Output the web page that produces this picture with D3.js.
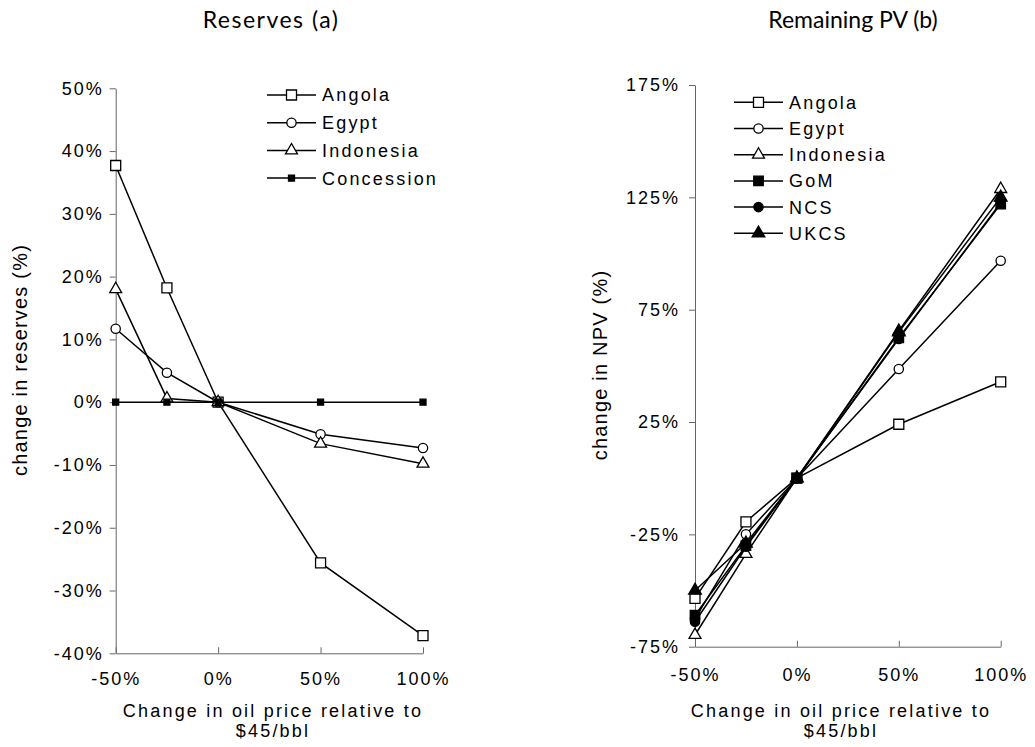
<!DOCTYPE html>
<html lang="en">
<head>
<meta charset="utf-8">
<title>Reserves and Remaining PV</title>
<script src="https://d3js.org/d3.v7.min.js"></script>
<style>
body { margin: 0; background: #fff; }
svg text { font-family: "Liberation Sans", Arial, sans-serif; fill: #000; }
.title { font-family: Lato, "Open Sans", sans-serif !important; font-size: 23px; }
.axis text { font-size: 18px; letter-spacing: 2px; }
.axis path, .axis line { stroke: #666; }
.lbl { font-size: 18px; letter-spacing: 2.2px; }
.ylbl { font-size: 20px; letter-spacing: 1.2px; }
.legend text { font-size: 18px; letter-spacing: 2.2px; }
</style>
</head>
<body>
<div id="chart"></div>
<script>

// x values shared by both panels (change in oil price, %)
var priceChange = [-50, -25, 0, 50, 100];

// panel (a): change in reserves (%)
var reservesAngola     = [37.7, 18.2, 0, -25.6, -37.2];
var reservesEgypt      = [11.7, 4.7, 0, -5.1, -7.3];
var reservesIndonesia  = [18.0, 0.6, 0, -6.6, -9.8];
var reservesConcession = [0, 0, 0, 0, 0];
var reservesTicks = [-40, -30, -20, -10, 0, 10, 20, 30, 40, 50];

// panel (b): change in NPV (%)
var npvAngola    = [-53.5, -19.4, 0, 24, 42.9];
var npvEgypt     = [-62.5, -25, 0, 48.6, 96.8];
var npvIndonesia = [-69.8, -33.7, 0, 65.5, 128.7];
var npvGoM       = [-61, -30, 0, 62.5, 122];
var npvNCS       = [-63.9, -30.5, 0, 62, 122.6];
var npvUKCS      = [-50, -29, 0, 65, 125];
var npvTicks = [-75, -25, 25, 75, 125, 175];

var xTicks = [-50, 0, 50, 100];

var svg = d3.select("#chart")
  .append("svg")
  .attr("width", 1035)
  .attr("height", 747);

function pct(d) { return d + "%"; }

// marker styles
var markers = {
  openSquare:   {type: d3.symbolSquare,   size: 100, fill: "#fff"},
  openCircle:   {type: d3.symbolCircle,   size: 68,  fill: "#fff"},
  openTriangle: {type: d3.symbolTriangle, size: 62,  fill: "#fff"},
  smallSquare:  {type: d3.symbolSquare,   size: 36,  fill: "#000"},
  fillSquare:   {type: d3.symbolSquare,   size: 90,  fill: "#000"},
  fillCircle:   {type: d3.symbolCircle,   size: 68,  fill: "#000"},
  fillTriangle: {type: d3.symbolTriangle, size: 70,  fill: "#000"}
};

function drawPanel(p) {
  var g = svg.append("g");

  var x = d3.scaleLinear().domain([-50, 100]).range([p.left, p.right]);
  var y = d3.scaleLinear().domain(p.yDomain).range([p.bottom, p.top]);

  // y axis
  g.append("g")
    .attr("class", "axis")
    .attr("transform", "translate(" + p.left + ",0)")
    .call(d3.axisLeft(y).tickValues(p.yTicks).tickFormat(pct).tickSizeInner(6).tickSizeOuter(0).tickPadding(p.yPad));

  // x axis, ticks point up into the plot
  g.append("g")
    .attr("class", "axis")
    .attr("transform", "translate(0," + p.bottom + ")")
    .call(d3.axisBottom(x).tickValues(xTicks).tickFormat(pct).tickSizeInner(-6).tickSizeOuter(0).tickPadding(p.xPad));

  // lines + markers
  var line = d3.line()
    .x(function(d, i) { return x(priceChange[i]); })
    .y(function(d) { return y(d); });

  p.series.forEach(function(s) {
    g.append("path")
      .attr("d", line(s.values))
      .attr("fill", "none")
      .attr("stroke", "#000")
      .attr("stroke-width", 1.5);
  });
  p.series.forEach(function(s) {
    var m = markers[s.marker];
    g.selectAll(null)
      .data(s.values)
      .enter()
      .append("path")
        .attr("d", d3.symbol().type(m.type).size(m.size))
        .attr("transform", function(d, i) { return "translate(" + x(priceChange[i]) + "," + y(d) + ")"; })
        .attr("fill", m.fill)
        .attr("stroke", "#000")
        .attr("stroke-width", 1.3);
  });

  // legend
  var leg = g.append("g").attr("class", "legend");
  p.series.forEach(function(s, i) {
    var ly = p.legY + i * p.legStep;
    var m = markers[s.marker];
    leg.append("line")
      .attr("x1", p.legX).attr("x2", p.legX + 49)
      .attr("y1", ly).attr("y2", ly)
      .attr("stroke", "#000").attr("stroke-width", 1.5);
    leg.append("path")
      .attr("d", d3.symbol().type(m.type).size(m.size))
      .attr("transform", "translate(" + (p.legX + 24.5) + "," + ly + ")")
      .attr("fill", m.fill)
      .attr("stroke", "#000")
      .attr("stroke-width", 1.3);
    leg.append("text")
      .attr("x", p.legX + 55)
      .attr("y", ly)
      .attr("dy", "0.36em")
      .text(s.name);
  });

  // titles
  svg.append("text")
    .attr("class", "title")
    .attr("x", p.titleX).attr("y", 20)
    .attr("dy", "0.35em")
    .attr("text-anchor", "middle")
    .style("letter-spacing", p.titleLs + "px")
    .text(p.title);

  svg.append("text")
    .attr("class", "ylbl")
    .attr("transform", "translate(" + p.yLabX + "," + p.yLabY + ") rotate(-90)")
    .attr("text-anchor", "middle")
    .attr("dy", "0.36em")
    .text(p.yLabel);

  svg.append("text")
    .attr("class", "lbl")
    .attr("x", p.xLabX).attr("y", 711)
    .attr("dy", "0.36em")
    .attr("text-anchor", "middle")
    .text("Change in oil price relative to");
  svg.append("text")
    .attr("class", "lbl")
    .attr("x", p.xLabX).attr("y", 731)
    .attr("dy", "0.36em")
    .attr("text-anchor", "middle")
    .text("$45/bbl");
}

drawPanel({
  left: 115.7, right: 423, top: 88.3, bottom: 653.3,
  yDomain: [-40, 50], yTicks: reservesTicks, yPad: 6, xPad: 19,
  title: "Reserves (a)", titleX: 271, titleLs: 1.5,
  yLabel: "change in reserves (%)", yLabX: 20, yLabY: 360,
  xLabX: 273,
  legX: 267, legY: 95, legStep: 27.7,
  series: [
    {name: "Angola", values: reservesAngola, marker: "openSquare"},
    {name: "Egypt", values: reservesEgypt, marker: "openCircle"},
    {name: "Indonesia", values: reservesIndonesia, marker: "openTriangle"},
    {name: "Concession", values: reservesConcession, marker: "smallSquare"}
  ]
});

drawPanel({
  left: 695, right: 1000.7, top: 85, bottom: 646.7,
  yDomain: [-75, 175], yTicks: npvTicks, yPad: 9, xPad: 22,
  title: "Remaining PV (b)", titleX: 853, titleLs: 0,
  yLabel: "change in NPV (%)", yLabX: 600, yLabY: 365,
  xLabX: 841,
  legX: 734, legY: 102.3, legStep: 26.2,
  series: [
    {name: "Angola", values: npvAngola, marker: "openSquare"},
    {name: "Egypt", values: npvEgypt, marker: "openCircle"},
    {name: "Indonesia", values: npvIndonesia, marker: "openTriangle"},
    {name: "GoM", values: npvGoM, marker: "fillSquare"},
    {name: "NCS", values: npvNCS, marker: "fillCircle"},
    {name: "UKCS", values: npvUKCS, marker: "fillTriangle"}
  ]
});

</script>
</body>
</html>
